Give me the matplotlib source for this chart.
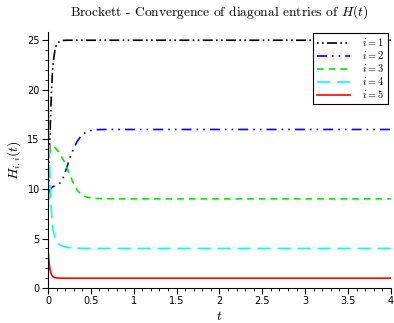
import matplotlib
matplotlib.use("Agg")
import matplotlib.pyplot as plt
from matplotlib.ticker import MultipleLocator

plt.rcParams['mathtext.fontset'] = 'cm'
plt.rcParams['font.family'] = ['DejaVu Sans']

# Data
t1 = [0, 0.005, 0.01, 0.015, 0.02, 0.03, 0.04, 0.05, 0.06, 0.08, 0.1, 0.13, 0.16, 0.2, 0.3, 4]
h1 = [7.9, 9.8, 11.6, 13.3, 14.8, 17.5, 19.8, 21.6, 22.8, 24.0, 24.6, 24.85, 24.95, 25.0, 25.0, 25.0]

t2 = [0, 0.02, 0.05, 0.1, 0.14, 0.18, 0.22, 0.26, 0.3, 0.34, 0.39, 0.43, 0.49, 0.57, 0.65, 0.8, 4]
h2 = [9.6, 9.9, 10.2, 10.4, 10.6, 11.2, 12.2, 13.3, 14.1, 14.8, 15.4, 15.66, 15.88, 15.98, 16.0, 16.0, 16.0]

t3 = [0, 0.02, 0.04, 0.07, 0.1, 0.14, 0.2, 0.24, 0.28, 0.31, 0.35, 0.39, 0.43, 0.47, 0.51, 0.56, 0.62, 0.8, 4]
h3 = [13.3, 13.7, 14.0, 14.25, 14.0, 13.5, 12.6, 11.7, 10.9, 10.3, 9.75, 9.45, 9.25, 9.14, 9.08, 9.04, 9.02, 9.0, 9.0]

t4 = [0, 0.005, 0.01, 0.015, 0.02, 0.025, 0.03, 0.04, 0.05, 0.06, 0.08, 0.1, 0.13, 0.18, 0.25, 0.33, 0.5, 4]
h4 = [20.5, 18.0, 15.6, 13.5, 11.8, 10.4, 9.2, 7.5, 6.4, 5.8, 5.1, 4.7, 4.4, 4.2, 4.07, 4.02, 4.0, 4.0]

t5 = [0, 0.005, 0.01, 0.015, 0.02, 0.03, 0.045, 0.06, 0.08, 0.1, 0.15, 4]
h5 = [3.8, 3.25, 2.8, 2.4, 2.05, 1.6, 1.28, 1.13, 1.05, 1.02, 1.0, 1.0]

labels = [r'$i = 1$', r'$i = 2$', r'$i = 3$', r'$i = 4$', r'$i = 5$']

fig = plt.figure(figsize=(3.94, 3.23), dpi=100)
ax = fig.add_axes([0.122, 0.108, 0.870, 0.792])

ax.plot(t1, h1, color='black', lw=1.2, dashes=[1, 2, 1, 2, 6, 2], label=labels[0])
ax.plot(t2, h2, color='blue', lw=1.2, dashes=[6, 3, 1, 3, 1, 3], label=labels[1])
ax.plot(t3, h3, color='#00ee00', lw=1.2, dashes=[4, 3], label=labels[2])
ax.plot(t4, h4, color='cyan', lw=1.2, dashes=[8, 4], label=labels[3])
ax.plot(t5, h5, color='red', lw=1.2, label=labels[4])

ax.set_xlim(0, 4)
ax.set_ylim(0, 25.8)
ax.spines['top'].set_visible(False)
ax.spines['right'].set_visible(False)
ax.xaxis.set_major_locator(MultipleLocator(0.5))
ax.xaxis.set_minor_locator(MultipleLocator(0.1))
ax.yaxis.set_major_locator(MultipleLocator(5))
ax.yaxis.set_minor_locator(MultipleLocator(1))
ax.set_xticks([0, 0.5, 1, 1.5, 2, 2.5, 3, 3.5, 4])
ax.set_xticklabels(['0', '0.5', '1', '1.5', '2', '2.5', '3', '3.5', '4'])
ax.tick_params(which='major', direction='out', length=4, width=0.8, labelsize=7, pad=2)
ax.tick_params(which='minor', direction='out', length=2.5, width=0.6)

ax.set_xlabel(r'$t$', fontsize=10, labelpad=2)
ax.set_ylabel(r'$H_{i,i}(t)$', fontsize=10, labelpad=2)
ax.set_title(r'Brockett - Convergence of diagonal entries of $H(t)$',
             fontfamily='cmr10', fontsize=9.7, pad=12)

leg = ax.legend(loc='upper right', bbox_to_anchor=(0.997, 1.005), fontsize=7.5,
                frameon=True, fancybox=False, framealpha=1, edgecolor='black',
                handlelength=3.2, borderpad=0.3, labelspacing=0.1, handletextpad=1.2,
                borderaxespad=0.2)
leg.get_frame().set_linewidth(0.8)

fig.savefig('out.png', dpi=100)
